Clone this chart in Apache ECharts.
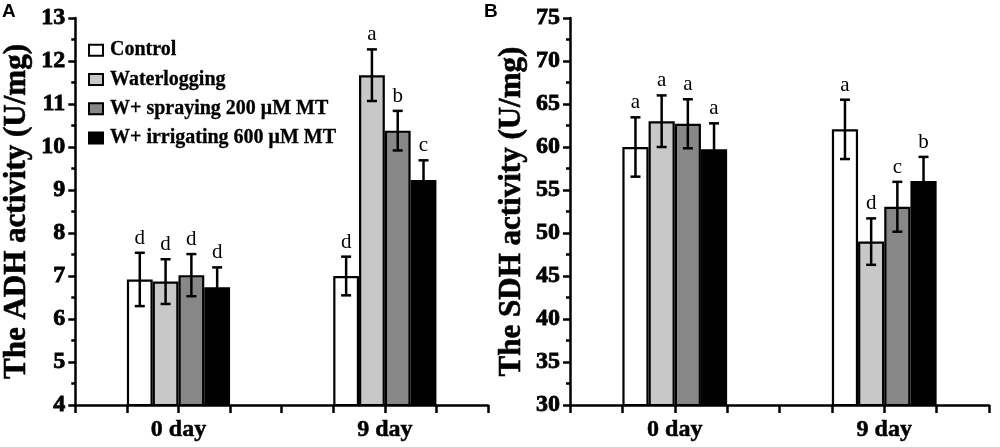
<!DOCTYPE html>
<html>
<head>
<meta charset="utf-8">
<script src="https://cdn.jsdelivr.net/npm/echarts@6/dist/echarts.min.js"></script>
<style>html,body{margin:0;padding:0;background:#fff;}#c{width:1000px;height:447px;}</style>
</head>
<body>
<div id="c"></div>
<script>
var categories = ['0 day', '9 day'];
var seriesNames = ['Control', 'Waterlogging', 'W+ spraying 200 \u03bcM MT', 'W+ irrigating 600 \u03bcM MT'];
var seriesColors = ['#ffffff', '#c8c8c8', '#878787', '#000000'];

// Panel A: ADH activity (U/mg)
var adhControl = [6.92, 7.00];
var adhWaterlogging = [6.87, 11.67];
var adhSpraying = [7.02, 10.38];
var adhIrrigating = [6.74, 9.23];
var adhErrControl = [0.62, 0.45];
var adhErrWaterlogging = [0.52, 0.60];
var adhErrSpraying = [0.49, 0.46];
var adhErrIrrigating = [0.46, 0.46];
var adhLetControl = ['d', 'd'];
var adhLetWaterlogging = ['d', 'a'];
var adhLetSpraying = ['d', 'b'];
var adhLetIrrigating = ['d', 'c'];

// Panel B: SDH activity (U/mg)
var sdhControl = [60.0, 62.05];
var sdhWaterlogging = [63.0, 49.0];
var sdhSpraying = [62.7, 53.05];
var sdhIrrigating = [59.75, 56.05];
var sdhErrControl = [3.45, 3.45];
var sdhErrWaterlogging = [3.0, 2.7];
var sdhErrSpraying = [2.85, 2.9];
var sdhErrIrrigating = [3.0, 2.8];
var sdhLetControl = ['a', 'a'];
var sdhLetWaterlogging = ['a', 'd'];
var sdhLetSpraying = ['a', 'c'];
var sdhLetIrrigating = ['a', 'b'];

var adhTicks = {min: 4, max: 13, interval: 1};
var sdhTicks = {min: 30, max: 75, interval: 5};

var adhMeans = [adhControl, adhWaterlogging, adhSpraying, adhIrrigating];
var adhErrs = [adhErrControl, adhErrWaterlogging, adhErrSpraying, adhErrIrrigating];
var adhLets = [adhLetControl, adhLetWaterlogging, adhLetSpraying, adhLetIrrigating];
var sdhMeans = [sdhControl, sdhWaterlogging, sdhSpraying, sdhIrrigating];
var sdhErrs = [sdhErrControl, sdhErrWaterlogging, sdhErrSpraying, sdhErrIrrigating];
var sdhLets = [sdhLetControl, sdhLetWaterlogging, sdhLetSpraying, sdhLetIrrigating];

var serif = '"Liberation Serif", "Times New Roman", serif';

function yAxisDef(gridIndex, t, name) {
  return {
    type: 'value', gridIndex: gridIndex, min: t.min, max: t.max, interval: t.interval,
    name: name, nameLocation: 'middle', nameGap: 43, nameRotate: 90,
    nameTextStyle: {fontFamily: serif, fontWeight: 'bold', fontSize: 31, color: '#000',
      textBorderColor: '#000', textBorderWidth: 0.6},
    axisLine: {show: true, lineStyle: {color: '#000', width: 2.5}},
    axisTick: {show: true, inside: false, length: 7, lineStyle: {color: '#000', width: 2.5}},
    minorTick: {show: true, splitNumber: 2, length: 4, lineStyle: {color: '#000', width: 2.5}},
    axisLabel: {
      margin: 10, color: '#000',
      formatter: function (v) { return '{n|' + v + '}'; },
      rich: {n: {fontFamily: serif, fontWeight: 'bold', fontSize: 24, color: '#000',
        textBorderColor: '#000', textBorderWidth: 0.8}}
    },
    splitLine: {show: false}
  };
}
function catAxisDef(gridIndex) {
  return {
    type: 'category', gridIndex: gridIndex, data: categories, boundaryGap: true,
    axisLine: {show: true, lineStyle: {color: '#000', width: 2.5}},
    axisTick: {show: false},
    axisLabel: {margin: 13, fontFamily: serif, fontWeight: 'bold', fontSize: 24, color: '#000',
      textBorderColor: '#000', textBorderWidth: 0.5},
    splitLine: {show: false}
  };
}
function tickAxisDef(gridIndex) {
  return {
    type: 'value', gridIndex: gridIndex, min: 0, max: 8, interval: 1, position: 'bottom',
    axisLine: {show: false}, axisLabel: {show: false}, splitLine: {show: false},
    axisTick: {show: true, length: 8, lineStyle: {color: '#000', width: 2.5}}
  };
}

var series = [];
function addPanel(gridIdx, xIdx, yIdx, means, errs, lets) {
  for (var i = 0; i < 4; i++) {
    series.push({
      type: 'bar', name: seriesNames[i], xAxisIndex: xIdx, yAxisIndex: yIdx,
      data: means[i], barGap: '0%', barCategoryGap: '50%',
      itemStyle: {color: seriesColors[i], borderColor: '#000', borderWidth: 2.2},
      emphasis: {disabled: true}, z: 2
    });
  }
  for (var j = 0; j < 4; j++) {
    (function (k) {
      var data = means[k].map(function (m, c) { return [c, m, errs[k][c]]; });
      series.push({
        type: 'custom', name: 'err' + gridIdx + '_' + k, xAxisIndex: xIdx, yAxisIndex: yIdx,
        data: data, z: 5, silent: true,
        renderItem: function (params, api) {
          var c = api.value(0), m = api.value(1), e = api.value(2);
          var band = api.size([1, 0])[0];
          var bw = band / 8;
          var center = api.coord([c, m]);
          var x = center[0] + (k - 1.5) * bw;
          var top = api.coord([c, m + e])[1];
          var bot = api.coord([c, m - e])[1];
          var st = {stroke: '#000', lineWidth: 2.5};
          var cap = 5;
          return {
            type: 'group',
            children: [
              {type: 'line', shape: {x1: x, y1: top, x2: x, y2: bot}, style: st},
              {type: 'line', shape: {x1: x - cap, y1: top, x2: x + cap, y2: top}, style: st},
              {type: 'line', shape: {x1: x - cap, y1: bot, x2: x + cap, y2: bot}, style: st},
              {type: 'text', x: x, y: top - 4, style: {
                text: lets[k][params.dataIndex], textAlign: 'center', textVerticalAlign: 'bottom',
                fontFamily: serif, fontSize: 21, fill: '#000'}}
            ]
          };
        }
      });
    })(j);
  }
}
addPanel(0, 0, 0, adhMeans, adhErrs, adhLets);
addPanel(1, 2, 1, sdhMeans, sdhErrs, sdhLets);

var option = {
  backgroundColor: '#fff',
  animation: false,
  grid: [
    {left: 72, top: 18, width: 416, height: 387},
    {left: 570, top: 18, width: 419, height: 387}
  ],
  xAxis: [catAxisDef(0), tickAxisDef(0), catAxisDef(1), tickAxisDef(1)],
  yAxis: [yAxisDef(0, adhTicks, 'The ADH activity (U/mg)'), yAxisDef(1, sdhTicks, 'The SDH activity (U/mg)')],
  legend: {
    data: seriesNames, orient: 'vertical', left: 83, top: 35,
    itemWidth: 14, itemHeight: 11, itemGap: 9, icon: 'rect',
    selectedMode: false,
    textStyle: {fontFamily: serif, fontWeight: 'bold', fontSize: 20, color: '#000', padding: [0, 0, 0, 2],
      textBorderColor: '#000', textBorderWidth: 0.3}
  },
  graphic: [
    {type: 'text', left: 2, top: 2, style: {text: 'A', font: 'bold 19px "Liberation Sans", Arial, sans-serif', fill: '#000'}},
    {type: 'text', left: 484, top: 2, style: {text: 'B', font: 'bold 19px "Liberation Sans", Arial, sans-serif', fill: '#000'}}
  ],
  series: series
};
var chart = echarts.init(document.getElementById('c'));
chart.setOption(option);
</script>
</body>
</html>
